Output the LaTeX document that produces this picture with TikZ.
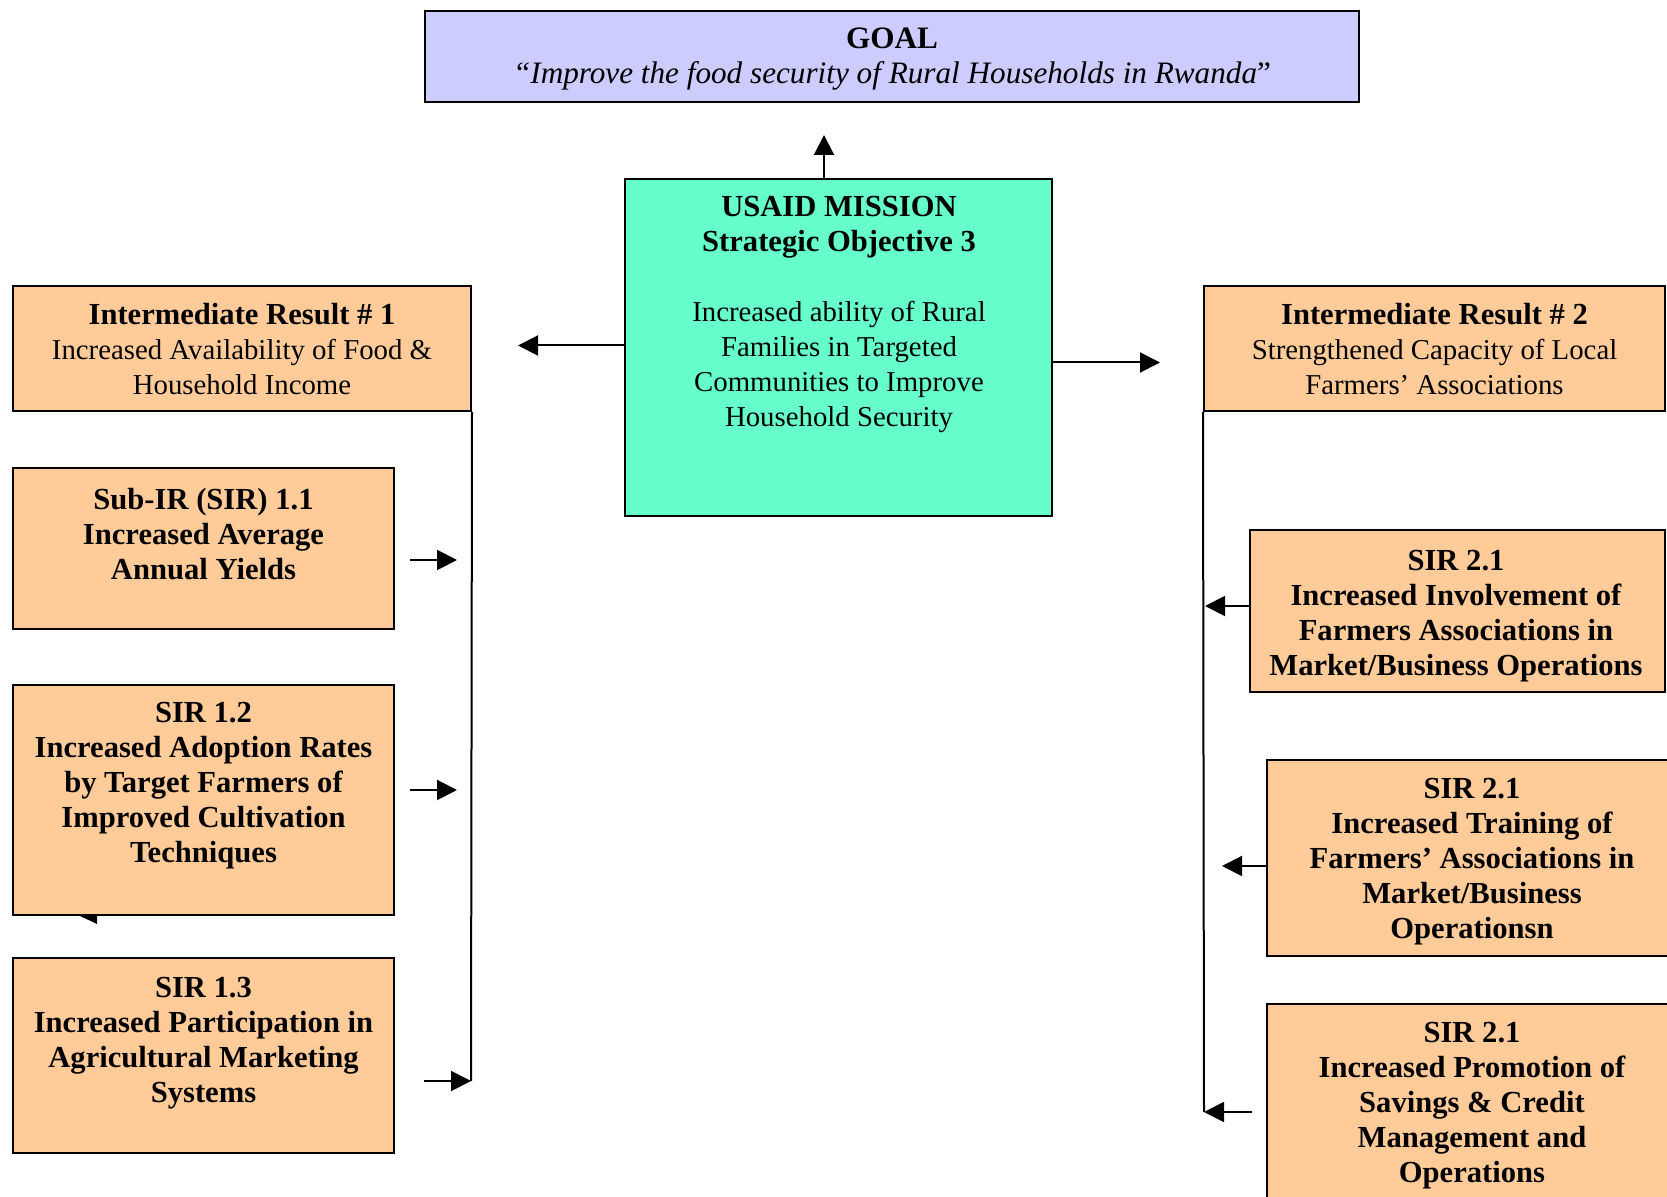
\documentclass[tikz,border=0pt]{standalone}
\usepackage{fontspec}
\setmainfont{Liberation Serif}
\usetikzlibrary{arrows.meta,fit}
\definecolor{goalfill}{HTML}{CCCCFF}
\definecolor{misfill}{HTML}{66FFCC}
\definecolor{orfill}{HTML}{FFCC99}
\begin{document}
\begin{tikzpicture}[x=0.5pt,y=-0.5pt,
 box/.style={draw=black, line width=1pt, inner sep=0pt, rectangle},
 gbox/.style={box, fill=goalfill},
 mbox/.style={box, fill=misfill},
 obox/.style={box, fill=orfill},
 txt/.style={align=center, inner sep=0pt, anchor=north, font=\fontsize{14.4pt}{17.5pt}\selectfont},
 btxt/.style={txt, font=\fontsize{15.3pt}{17.5pt}\selectfont\bfseries},
 link/.style={line width=1pt},
 arr/.style={link, -{Triangle[length=10pt,width=10pt]}}
]
\useasboundingbox (0,0) rectangle (1667,1197);

% boxes
\node[gbox, fit={(425,11) (1359,102)}] (goal) {};
\node[mbox, fit={(625,179) (1052,516)}] (mission) {};
\node[obox, fit={(13,286) (471,411)}] (ir1) {};
\node[obox, fit={(1204,286) (1665,411)}] (ir2) {};
\node[obox, fit={(13,468) (394,629)}] (sir11) {};
\node[obox, fit={(13,685) (394,915)}] (sir12) {};
\node[obox, fit={(13,958) (394,1153)}] (sir13) {};
\node[obox, fit={(1250,530) (1665,692)}] (sir21) {};
\node[obox, fit={(1267,760) (1700,956)}] (sir22) {};
\node[obox, fit={(1267,1004) (1700,1240)}] (sir23) {};

% texts
\node[txt, font=\fontsize{15.6pt}{17.5pt}\selectfont] (goalt) at (892,23.5) {\strut\textbf{GOAL}\\\textit{“Improve the food security of Rural Households in Rwanda}”};
\node[txt] (missiont) at (839,191.5) {\strut{\fontsize{15.3pt}{17.5pt}\selectfont\textbf{USAID MISSION}}\\{\fontsize{15.3pt}{17.5pt}\selectfont\textbf{Strategic Objective 3}}\\[17.5pt]Increased ability of Rural\\Families in Targeted\\Communities to Improve\\Household Security};
\node[txt] (ir1t) at (242,299.5) {\strut{\fontsize{15.3pt}{17.5pt}\selectfont\textbf{Intermediate Result \# 1}}\\Increased Availability of Food \&\\Household Income};
\node[txt] (ir2t) at (1434.5,299.5) {\strut{\fontsize{15.3pt}{17.5pt}\selectfont\textbf{Intermediate Result \# 2}}\\Strengthened Capacity of Local\\Farmers’ Associations};
\node[btxt] (sir11t) at (203.5,484.5) {\strut Sub-IR (SIR) 1.1\\Increased Average\\Annual Yields};
\node[btxt] (sir12t) at (203.5,697.5) {\strut SIR 1.2\\Increased Adoption Rates\\by Target Farmers of\\Improved Cultivation\\Techniques};
\node[btxt] (sir13t) at (203.5,972.5) {\strut SIR 1.3\\Increased Participation in\\Agricultural Marketing\\Systems};
\node[btxt] (sir21t) at (1456,545.5) {\strut SIR 2.1\\Increased Involvement of\\Farmers Associations in\\Market/Business Operations};
\node[btxt] (sir22t) at (1472,773.5) {\strut SIR 2.1\\Increased Training of\\Farmers’ Associations in\\Market/Business\\Operationsn};
\node[btxt] (sir23t) at (1472,1017.5) {\strut SIR 2.1\\Increased Promotion of\\Savings \& Credit\\Management and\\Operations};

% connector end points
\coordinate (goalin) at (824,135);
\coordinate (ir1in) at (518,345.5);
\coordinate (ir2in) at (1160,362.5);
\coordinate (a11s) at (410,560);
\coordinate (a11e) at (457,560);
\coordinate (a12s) at (410,790);
\coordinate (a12e) at (457,790);
\coordinate (a13s) at (424,1081);
\coordinate (lbus) at (471,1081);
\coordinate (a21e) at (1205,606);
\coordinate (a22e) at (1222,866);
\coordinate (a23s) at (1252,1112);
\coordinate (rbus) at (1204,1112);

% connectors
\draw[arr] (goalin |- mission.north) -- (goalin);
\draw[arr] (ir1in -| mission.west) -- (ir1in);
\draw[arr] (ir2in -| mission.east) -- (ir2in);
\draw[link] (ir1.south east) -- (lbus);
\draw[link] (ir2.south west) -- (rbus);
\draw[arr] (a11s) -- (a11e);
\draw[arr] (a12s) -- (a12e);
\draw[arr] (a13s) -- (lbus);
\draw[arr] (a21e -| sir21.west) -- (a21e);
\draw[arr] (a22e -| sir22.west) -- (a22e);
\draw[arr] (a23s) -- (rbus);

% stray arrowhead fragment under SIR 1.2
\fill[black] (80,916) -- (97,916) -- (97,924) -- cycle;
\end{tikzpicture}
\end{document}
